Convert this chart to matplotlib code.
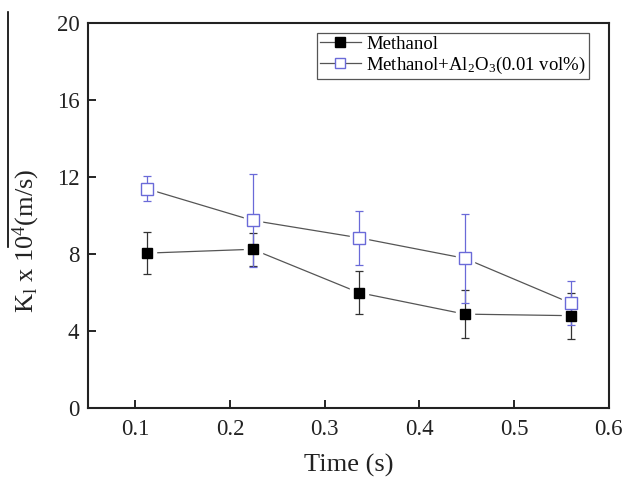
import matplotlib
matplotlib.use("Agg")
import matplotlib.pyplot as plt
from matplotlib.lines import Line2D

plt.rcParams['font.family'] = ['Liberation Serif', 'DejaVu Serif']
plt.rcParams['mathtext.fontset'] = 'custom'
plt.rcParams['mathtext.rm'] = 'Liberation Serif'
plt.rcParams['mathtext.it'] = 'Liberation Serif:italic'

time = [0.112, 0.224, 0.336, 0.448, 0.560]
meth = [8.05, 8.25, 6.0, 4.88, 4.8]
meth_err = [1.1, 0.85, 1.12, 1.25, 1.2]
nano = [11.4, 9.75, 8.85, 7.78, 5.45]
nano_err = [0.65, 2.4, 1.4, 2.33, 1.15]

blue = '#6a6ad8'
grey = '#555555'

fig = plt.figure(figsize=(6.27, 4.84), dpi=100)
ax = fig.add_axes([0.140, 0.157, 0.831, 0.795])

# connecting lines with gaps at the markers (Origin style)
ax.plot(time, meth, '-', color=grey, lw=0.9, zorder=1)
ax.plot(time, nano, '-', color=grey, lw=0.9, zorder=1)
ax.plot(time, meth, 's', ms=13, color='white', mec='white', zorder=2)
ax.plot(time, nano, 's', ms=13, color='white', mec='white', zorder=2)

ax.errorbar(time, meth, yerr=meth_err, fmt='none', ecolor='#333333',
            elinewidth=0.9, capsize=3, capthick=0.9, zorder=3)
ax.errorbar(time, nano, yerr=nano_err, fmt='none', ecolor=blue,
            elinewidth=0.9, capsize=3, capthick=0.9, zorder=3)
ax.plot(time, meth, 's', ms=7.5, color='black', zorder=4)
ax.plot(time, nano, 's', ms=8, mfc='white', mec=blue, mew=1.0, zorder=4)

ax.set_xlim(0.05, 0.6)
ax.set_ylim(0, 20)
ax.set_xticks([0.1, 0.2, 0.3, 0.4, 0.5, 0.6])
ax.set_xticklabels(['0.1', '0.2', '0.3', '0.4', '0.5', '0.6'])
ax.set_yticks([0, 4, 8, 12, 16, 20])
ax.tick_params(direction='in', length=6, width=1.2, labelsize=16.5,
               top=False, right=False, labelcolor='#222222')
ax.tick_params(axis='x', pad=8)
ax.tick_params(axis='y', pad=6)
for s in ax.spines.values():
    s.set_linewidth(1.5)
    s.set_color('#222222')

ax.set_xlabel('Time (s)', fontsize=19, labelpad=10, color='#222222')
ax.set_ylabel(r'K$_\mathregular{l}$ x 10$^\mathregular{4}$(m/s)', fontsize=19, color='#222222')
ax.yaxis.set_label_coords(-0.088, 0.434)

h1 = Line2D([], [], color=grey, lw=0.9, marker='s', ms=7, mfc='black', mec='black')
h2 = Line2D([], [], color=grey, lw=0.9, marker='s', ms=7, mfc='white', mec=blue)
leg = ax.legend([h1, h2], ['Methanol', r'Methanol+Al$_\mathregular{2}$O$_\mathregular{3}$(0.01 vol%)'],
                loc='upper right', bbox_to_anchor=(0.962, 0.975), fontsize=13.5,
                frameon=True, fancybox=False, edgecolor='#555555', framealpha=1,
                handlelength=2.2, handletextpad=0.3, borderpad=0.15, labelspacing=0.1,
                borderaxespad=0)
leg.get_frame().set_linewidth(0.9)

# stray vertical rule at the left edge of the scanned figure
fig.add_artist(Line2D([0.012, 0.012], [0.49, 0.975], color='black', lw=1.2))

fig.savefig('out.png', dpi=100)
